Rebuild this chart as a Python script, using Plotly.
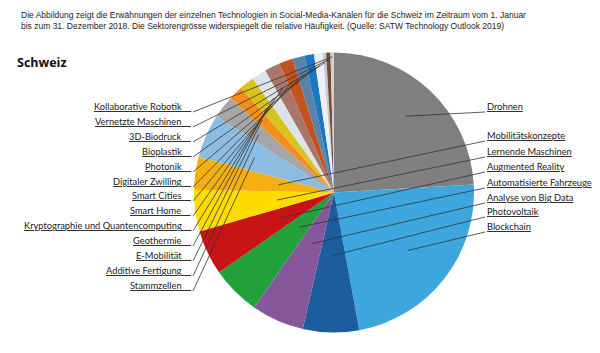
import math
import plotly.graph_objects as go

W, H = 600, 353

# ---- data (relative frequency, %), in pie order clockwise from 12 o'clock ----
labels = ["Drohnen", "Blockchain", "Photovoltaik", "Analyse von Big Data",
          "Automatisierte Fahrzeuge", "Augmented Reality", "Lernende Maschinen",
          "Mobilitätskonzepte", "Stammzellen", "Additive Fertigung", "E-Mobilität",
          "Geothermie", "Kryptographie und Quantencomputing", "Smart Home",
          "Smart Cities", "Digitaler Zwilling", "Photonik", "Bioplastik",
          "3D-Biodruck", "Vernetzte Maschinen", "Kollaborative Robotik"]
values = [24.2, 23.1, 6.5, 6.1, 5.7, 5.2, 4.8, 3.8, 5.1, 2.6, 1.7,
          1.7, 1.7, 1.8, 1.6, 1.4, 1.1, 1.0, 0.4, 0.5, 0.4]
colors = ["#7F7F7F", "#3DA6DF", "#1C5D9E", "#87579B", "#22A03A", "#C81414",
          "#FFDC00", "#F4AF12", "#8DBCE3", "#A6A6A6", "#F58D1E", "#D9C21C",
          "#DCE3EA", "#A8766B", "#C4521F", "#5B83A7", "#1A78C3", "#EEF0F3",
          "#C3CDD7", "#6E4B3A", "#D8CEC2"]

right_labels = ["Drohnen", "Mobilitätskonzepte", "Lernende Maschinen", "Augmented Reality",
                "Automatisierte Fahrzeuge", "Analyse von Big Data", "Photovoltaik", "Blockchain"]
left_labels = ["Kollaborative Robotik", "Vernetzte Maschinen", "3D-Biodruck", "Bioplastik",
               "Photonik", "Digitaler Zwilling", "Smart Cities", "Smart Home",
               "Kryptographie und Quantencomputing", "Geothermie", "E-Mobilität",
               "Additive Fertigung", "Stammzellen"]

title_text = ("Die Abbildung zeigt die Erwähnungen der einzelnen Technologien in Social-Media-Kanälen "
              "für die Schweiz im Zeitraum vom 1. Januar<br>bis zum 31. Dezember 2018. Die Sektorengrösse "
              "widerspiegelt die relative Häufigkeit. (Quelle: SATW Technology Outlook 2019)")

# ---- layout geometry (pixels) ----
cx, cy, R = 334, 192.5, 140
right_y = [112, 141, 157, 172, 188, 203, 217, 232]
right_f = [0.75, 0.40, 0.41, 0.42, 0.35, 0.40, 0.45, 0.67]
left_y = [112, 127, 142, 157, 172, 187, 201, 216, 231, 246, 261, 276, 291]
left_f = [0.97, 0.95, 0.93, 0.91, 0.89, 0.87, 0.85, 0.83, 0.80, 0.77, 0.73, 0.68, 0.62]

def fx(x):
    return x / W

def fy(y):
    return 1 - y / H

total = sum(values)
mid = {}
acc = 0.0
for lab, v in zip(labels, values):
    mid[lab] = (acc + v / 2) / total * 2 * math.pi
    acc += v

def anchor(lab, f):
    t = mid[lab]
    return cx + f * R * math.sin(t), cy - f * R * math.cos(t)

fig = go.Figure()
fig.add_trace(go.Pie(
    labels=labels, values=values, sort=False, direction="clockwise", rotation=0,
    marker=dict(colors=colors, line=dict(width=0)), textinfo="none",
    hoverinfo="label+percent", showlegend=False,
    domain=dict(x=[fx(cx - R), fx(cx + R)], y=[fy(cy + R), fy(cy - R)]),
))

shapes = []
annotations = []
lfont = dict(family="Lato, Open Sans, sans-serif", size=9.3, color="#222")
uoff = 5.5  # underline offset below text centre

for lab, uy, f in zip(right_labels, right_y, right_f):
    ax, ay = anchor(lab, f)
    x0 = 485
    shapes.append(dict(type="line", xref="paper", yref="paper", x0=fx(ax), y0=fy(ay),
                       x1=fx(x0), y1=fy(uy), line=dict(color="#333", width=0.8)))
    annotations.append(dict(text="<u>" + lab + "</u>", x=fx(x0), y=fy(uy - uoff),
                            xref="paper", yref="paper", xanchor="left", yanchor="middle",
                            showarrow=False, font=lfont))

for lab, uy, f in zip(left_labels, left_y, left_f):
    ax, ay = anchor(lab, f)
    x0 = 193
    shapes.append(dict(type="line", xref="paper", yref="paper", x0=fx(x0), y0=fy(uy),
                       x1=fx(ax), y1=fy(ay), line=dict(color="#333", width=0.8)))
    annotations.append(dict(text="<u>" + lab + "&nbsp;&nbsp;&nbsp;&nbsp;</u>", x=fx(x0),
                            y=fy(uy - uoff), xref="paper", yref="paper", xanchor="right",
                            yanchor="middle", showarrow=False, font=lfont))

annotations.append(dict(text=title_text, x=fx(19), y=fy(8), xref="paper", yref="paper",
                        xanchor="left", yanchor="top", align="left", showarrow=False,
                        font=dict(family="Liberation Sans, Arial, sans-serif", size=8.5, color="#222")))
annotations.append(dict(text="<b>Schweiz</b>", x=fx(15), y=fy(62), xref="paper", yref="paper",
                        xanchor="left", yanchor="middle", showarrow=False,
                        font=dict(family="Open Sans, sans-serif", size=12.5, color="#111")))

fig.update_layout(width=W, height=H, margin=dict(l=0, r=0, t=0, b=0),
                  paper_bgcolor="white", plot_bgcolor="white",
                  shapes=shapes, annotations=annotations)
fig.write_html("out.html")
